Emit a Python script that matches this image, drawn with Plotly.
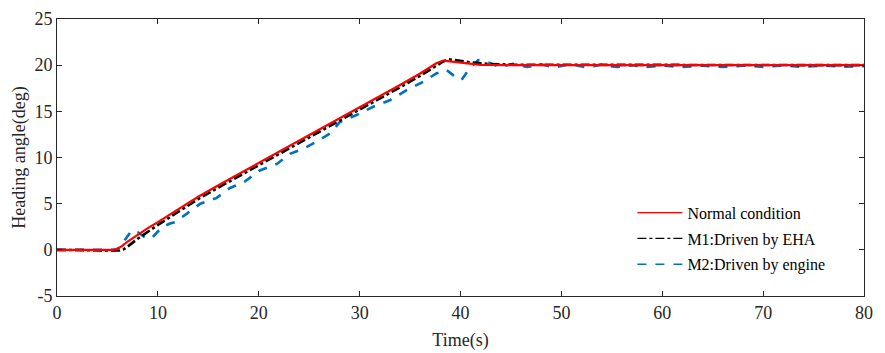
import plotly.graph_objects as go

# Normal condition (red)
t_normal = [0, 5.5, 6.0, 6.5, 7.0, 8.0, 9.0, 10.0, 12.0, 14.0, 16.0, 18.0, 20.0, 22.0, 24.0, 26.0,
            28.0, 30.0, 32.0, 34.0, 36.0, 37.6, 38.3, 39.0, 40.0, 41.0, 42.0, 45.0, 80.0]
y_normal = [0, 0, 0.1, 0.45, 0.9, 1.65, 2.35, 3.0, 4.4, 5.75, 7.0, 8.2, 9.4, 10.65, 11.85, 13.05,
            14.25, 15.45, 16.65, 17.85, 19.1, 20.2, 20.5, 20.4, 20.25, 20.1, 20.03, 20.0, 20.0]

# M1: Driven by EHA (black dash-dot)
t_m1 = [0, 5.8, 6.2, 6.6, 7.0, 8.0, 9.0, 10.0, 12.0, 14.0, 16.0, 18.0, 20.0, 22.0, 24.0, 26.0,
        28.0, 30.0, 32.0, 34.0, 36.0, 37.6, 38.3, 38.8, 39.5, 40.2, 41.0, 42.6, 45.0, 80.0]
y_m1 = [0, 0, -0.08, 0.05, 0.35, 1.2, 2.0, 2.7, 4.1, 5.5, 6.75, 7.95, 9.15, 10.4, 11.6, 12.8,
        14.0, 15.2, 16.4, 17.6, 18.85, 19.95, 20.4, 20.65, 20.55, 20.4, 20.3, 20.15, 20.05, 20.0]

# M2: Driven by engine (blue dashed)
t_m2 = [0, 5.8, 6.2, 6.8, 7.4, 8.0, 8.9, 9.5, 10.4, 11.2, 11.7, 12.85, 14.2, 15.5, 15.8, 17.15,
        18.5, 20.1, 21.8, 23.1, 24.4, 25.7, 27.06, 28.05, 29.7, 31.35, 33.0, 34.66, 36.3, 37.6,
        38.6, 39.3, 40.1, 40.9, 41.75, 42.6, 43.9, 45.2, 46.6, 48.0, 49.2, 51.0, 52.5, 54.0, 55.5,
        57.0, 58.5, 60.0, 62.0, 64.0, 66.0, 68.0, 70.0, 72.0, 74.0, 76.0, 78.0, 80.0]
y_m2 = [0, 0, 0.25, 1.2, 2.1, 1.9, 1.2, 1.4, 2.45, 2.85, 3.0, 3.9, 5.0, 5.5, 5.6, 6.7,
        7.3, 8.6, 9.3, 10.4, 10.95, 11.7, 12.6, 13.85, 14.6, 15.5, 16.2, 17.3, 18.2, 19.1,
        19.5, 18.9, 18.4, 19.65, 20.55, 20.35, 19.8, 20.15, 19.8, 20.1, 19.75, 20.1, 19.75, 20.05, 19.8,
        20.0, 19.8, 19.95, 19.8, 19.95, 19.8, 19.95, 19.82, 19.95, 19.82, 19.95, 19.82, 19.9]

x_ticks = [0, 10, 20, 30, 40, 50, 60, 70, 80]
y_ticks = [-5, 0, 5, 10, 15, 20, 25]
y_tick_labels = ["-5", "0", "5", "10", "15", "20", "25"]

names = ["Normal condition", "M1:Driven by EHA", "M2:Driven by engine"]
colors = ["#FF0000", "#000000", "#0072BD"]

FONT = "Liberation Serif"

fig = go.Figure()

fig.add_trace(go.Scatter(x=t_m2, y=y_m2, mode="lines", showlegend=False,
                         line=dict(color=colors[2], width=2.6, dash="dash")))
fig.add_trace(go.Scatter(x=t_m1, y=y_m1, mode="lines", showlegend=False,
                         line=dict(color=colors[1], width=2.6, dash="dashdot")))
fig.add_trace(go.Scatter(x=t_normal, y=y_normal, mode="lines", showlegend=False,
                         line=dict(color=colors[0], width=2.2)))

# legend samples (thin lines as in the reference)
for i, (name, col, dash) in enumerate(zip(names, colors, ["solid", "dashdot", "dash"])):
    fig.add_trace(go.Scatter(x=[None], y=[None], mode="lines", name=name, legendgroup=f"g{i}",
                             line=dict(color=col, width=1.3, dash=dash)))

axis_common = dict(showgrid=False, zeroline=False, showline=True, linecolor="#262626",
                   linewidth=1, mirror="ticks", ticks="inside", ticklen=5, tickcolor="#262626",
                   automargin=False,
                   tickfont=dict(family=FONT, size=18, color="#262626"))

fig.update_xaxes(range=[0, 80], tickvals=x_ticks, **axis_common,
                 title=dict(text="Time(s)", font=dict(family=FONT, size=18, color="#262626"), standoff=11))
fig.update_yaxes(range=[-5, 25], tickvals=y_ticks, ticktext=y_tick_labels, **axis_common,
                 title=dict(text="Heading angle(deg)", font=dict(family=FONT, size=18, color="#262626"), standoff=4))

fig.update_layout(
    width=885, height=353,
    margin=dict(l=49, r=29, t=11, b=65),
    paper_bgcolor="white", plot_bgcolor="white",
    legend=dict(x=0.713, y=0.362, xanchor="left", yanchor="top",
                bgcolor="rgba(0,0,0,0)", borderwidth=0, itemwidth=45,
                font=dict(family=FONT, size=16, color="#000000"), tracegroupgap=2),
)

fig.write_html("out.html")
